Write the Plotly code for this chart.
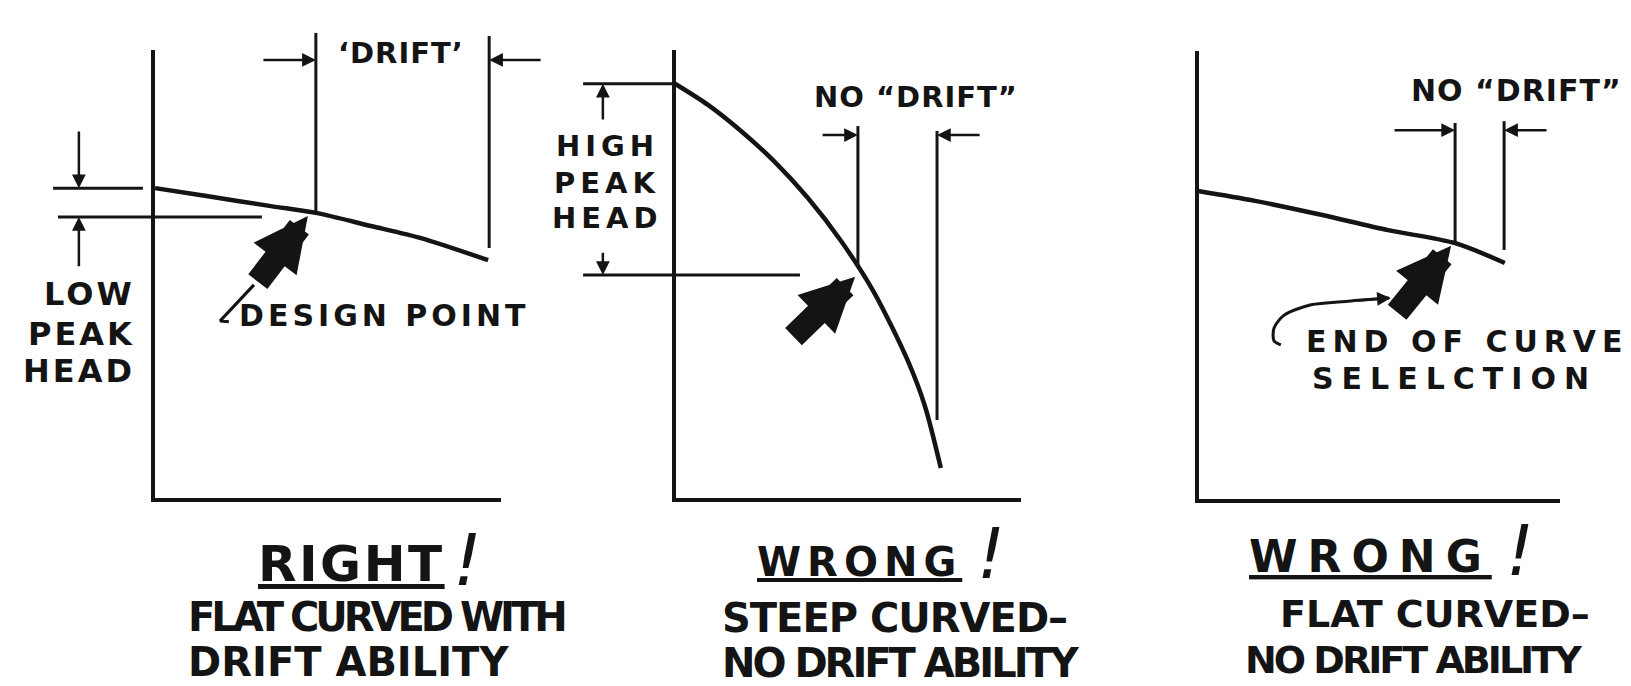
import plotly.graph_objects as go

W, H = 1631, 686
INK = "#141414"
FONT = "DejaVu Sans"
Y_FIX = 7.5   # px: plotly draws text slightly below the anchor; compensate

# ---------------- data (flow %, head %) ----------------
# Panel 1 : RIGHT! flat curve with drift ability
p1_flow = [0.6, 14.9, 33.9, 46.8, 62.6, 77.0, 96.3]
p1_head = [69.3, 67.6, 65.3, 63.8, 60.9, 58.2, 53.3]
p1_design = [46.8, 63.8]          # design point (flow, head)
p1_drift_limit = 96.6             # end of the drift range (flow)
p1_peak_band = [69.3, 62.9]       # low peak head band (top, bottom)

# Panel 2 : WRONG! steep curve
p2_flow = [0.3, 9.8, 19.3, 29.1, 38.6, 48.1, 57.6, 67.4, 72.3, 76.9]
p2_head = [92.5, 87.8, 82.0, 75.1, 67.1, 57.6, 46.2, 30.9, 20.9, 7.1]
p2_design = [53.0, 52.0]
p2_drift_limit = 75.8
p2_peak_band = [92.5, 50.0]       # high peak head band (top, bottom)

# Panel 3 : WRONG! flat curve, end-of-curve selection
p3_flow = [0.3, 16.0, 34.2, 52.6, 71.1, 84.8]
p3_head = [68.9, 66.7, 63.6, 60.2, 57.3, 52.9]
p3_design = [71.1, 57.3]
p3_drift_limit = 84.6

axis_flow = [0, 0, 100]
axis_head = [100, 0, 0]

# ---------------- panel geometry (pixels) ----------------
GEOM = {
    1: dict(px=(0, 545), origin=(145, 492), scale=(3.48, 4.5)),
    2: dict(px=(545, 1060), origin=(666, 492), scale=(3.47, 4.5)),
    3: dict(px=(1060, 1631), origin=(1189, 493), scale=(3.63, 4.5)),
}
PY = (0, 505)

layout_axes = {}
for n, g in GEOM.items():
    x0, x1 = g["px"]
    ox, oy = g["origin"]
    sx, sy = g["scale"]
    s = "" if n == 1 else str(n)
    layout_axes[f"xaxis{s}"] = dict(domain=[x0 / W, x1 / W], range=[(x0 - ox) / sx, (x1 - ox) / sx],
                                    visible=False, fixedrange=True, anchor=f"y{s}")
    layout_axes[f"yaxis{s}"] = dict(domain=[1 - PY[1] / H, 1 - PY[0] / H],
                                    range=[(oy - PY[1]) / sy, (oy - PY[0]) / sy],
                                    visible=False, fixedrange=True, anchor=f"x{s}")

fig = go.Figure()


def refs(n):
    s = "" if n == 1 else str(n)
    return f"x{s}", f"y{s}"


def line(n, xs, ys, width=3.0, spline=False):
    xr, yr = refs(n)
    fig.add_trace(go.Scatter(x=xs, y=ys, mode="lines", xaxis=xr, yaxis=yr,
                             line=dict(color=INK, width=width, shape="spline" if spline else "linear",
                                       smoothing=0.8),
                             hoverinfo="skip", showlegend=False))


def arrow(n, tip, tail, width=2.5, head=2, size=1.1):
    xr, yr = refs(n)
    fig.add_annotation(xref=xr, yref=yr, axref=xr, ayref=yr, x=tip[0], y=tip[1], ax=tail[0], ay=tail[1],
                       text="", showarrow=True, arrowhead=head, arrowsize=size, arrowwidth=width,
                       arrowcolor=INK, standoff=0)


def sp(text, ls, extra=""):
    style = (f"letter-spacing:{ls}px;" if ls else "") + extra
    return f'<span style="{style}">{text}</span>' if style else text


def label(n, x, y, text, size, ls=0, xanchor="center"):
    xr, yr = refs(n)
    sy = GEOM[n]["scale"][1]
    fig.add_annotation(xref=xr, yref=yr, x=x, y=y + Y_FIX / sy, text=sp(text, ls), showarrow=False,
                       xanchor=xanchor, yanchor="middle",
                       font=dict(family=FONT, size=size, color=INK, weight="bold"))


def caption(xp, yp, text, size, ls=0, xanchor="center", bold=True, wavy=False, italic=False, fix=Y_FIX):
    extra = ("text-decoration:underline wavy;text-decoration-thickness:3px;"
             "text-underline-offset:7px;") if wavy else ""
    fig.add_annotation(xref="paper", yref="paper", x=xp / W, y=1 - (yp - fix) / H,
                       text=sp(text, ls, extra), showarrow=False, xanchor=xanchor, yanchor="middle",
                       font=dict(family=FONT, size=size, color=INK,
                                 weight="bold" if bold else "normal",
                                 style="italic" if italic else "normal"))


# ---------------- Panel 1 ----------------
line(1, axis_flow, axis_head, 4)
line(1, p1_flow, p1_head, 4.5, spline=True)
line(1, [p1_design[0], p1_design[0]], [103.8, p1_design[1]])
line(1, [p1_drift_limit, p1_drift_limit], [103.1, 56.0])
line(1, [-28.7, -2.9], [p1_peak_band[0], p1_peak_band[0]])
line(1, [-27.3, 31.3], [p1_peak_band[1], p1_peak_band[1]])
line(1, [29.0, 19.3, 21.8], [47.8, 39.8, 39.6], 3)
arrow(1, (p1_design[0], 97.8), (31.3, 97.8))
arrow(1, (p1_drift_limit, 97.8), (111.8, 97.8))
arrow(1, (-21.3, p1_peak_band[0]), (-21.3, 82.2))
arrow(1, (-21.3, p1_peak_band[1]), (-21.3, 51.6))
arrow(1, (44.5, 63.1), (29.8, 48.2), width=24, head=2, size=0.45)
label(1, 71.3, 97.6, "‘DRIFT’", 29, 1)
label(1, -4.6, 44.2, "LOW", 32, 3, "right")
label(1, -4.6, 35.3, "PEAK", 32, 3, "right")
label(1, -4.6, 27.1, "HEAD", 32, 3, "right")
label(1, 24.1, 39.3, "DESIGN POINT", 30, 4, "left")

# ---------------- Panel 2 ----------------
line(2, axis_flow, axis_head, 4)
line(2, p2_flow, p2_head, 4.5, spline=True)
line(2, [-26.2, p2_flow[0]], [p2_peak_band[0], p2_peak_band[0]])
line(2, [-26.2, 36.3], [p2_peak_band[1], p2_peak_band[1]])
line(2, [p2_design[0], p2_design[0]], [83.1, p2_design[1]])
line(2, [p2_drift_limit, p2_drift_limit], [82.0, 17.8])
arrow(2, (p2_design[0], 81.1), (42.4, 81.1))
arrow(2, (p2_drift_limit, 81.1), (88.5, 81.1))
arrow(2, (-20.5, p2_peak_band[0]), (-20.5, 84.2))
arrow(2, (-20.5, p2_peak_band[1]), (-20.5, 55.3))
arrow(2, (52.2, 49.6), (34.0, 36.0), width=24, head=2, size=0.45)
label(2, -19.3, 77.1, "HIGH", 29, 5)
label(2, -19.3, 68.7, "PEAK", 29, 5)
label(2, -19.3, 61.1, "HEAD", 29, 5)
label(2, 69.7, 87.8, "NO “DRIFT”", 29, 1)

# ---------------- Panel 3 ----------------
line(3, axis_flow, axis_head, 4)
line(3, p3_flow, p3_head, 4.5, spline=True)
line(3, [p3_design[0], p3_design[0]], [84.0, p3_design[1]])
line(3, [p3_drift_limit, p3_drift_limit], [84.4, 55.8])
line(3, [52.9, 41.6, 31.4, 24.0, 21.2, 21.2, 23.1], [45.1, 44.4, 43.6, 41.3, 38.4, 35.6, 34.7], 3, spline=True)
arrow(3, (53.4, 45.1), (44.0, 44.6))
arrow(3, (p3_design[0], 82.4), (54.0, 82.4))
arrow(3, (p3_drift_limit, 82.4), (96.7, 82.4))
arrow(3, (70.0, 56.7), (54.8, 41.6), width=24, head=2, size=0.45)
label(3, 88.0, 89.6, "NO “DRIFT”", 30, 1)
label(3, 29.5, 33.7, "END OF CURVE", 30, 6, "left")
label(3, 31.1, 25.6, "SELELCTION", 30, 8, "left")

# ---------------- captions ----------------
caption(343, 563, "RIGHT", 50, 2.5, wavy=True)
caption(459, 555, "!", 72, bold=False, italic=True, fix=3)
caption(178, 616, "FLAT CURVED WITH", 40, -4, "left")
caption(178, 661, "DRIFT ABILITY", 40, 0, "left")

caption(852, 561, "WRONG", 40, 6, wavy=True)
caption(983, 549, "!", 70, bold=False, italic=True, fix=3)
caption(712, 617, "STEEP CURVED–", 40, -1, "left")
caption(712, 662, "NO DRIFT ABILITY", 40, -3, "left")

caption(1362, 556, "WRONG", 44, 10, wavy=True)
caption(1512, 546, "!", 70, bold=False, italic=True, fix=3)
caption(1270, 613, "FLAT CURVED–", 38, 0, "left")
caption(1235, 659, "NO DRIFT ABILITY", 38, -3, "left")

fig.update_layout(width=W, height=H, margin=dict(l=0, r=0, t=0, b=0),
                  paper_bgcolor="white", plot_bgcolor="white", showlegend=False,
                  **layout_axes)

fig.write_html("out.html", config={"displayModeBar": False})
